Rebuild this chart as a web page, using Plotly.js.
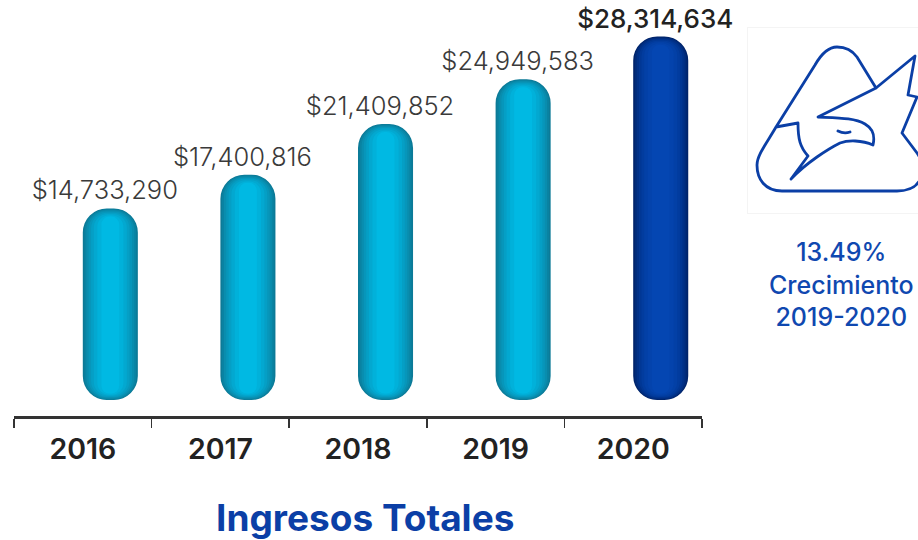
<!DOCTYPE html>
<html>
<head>
<meta charset="utf-8">
<script src="https://cdn.plot.ly/plotly-3.0.1.min.js"></script>
<style>html,body{margin:0;padding:0;background:#fff}#c{width:918px;height:540px}</style>
</head>
<body>
<div id="c"></div>
<script>
const years = ['2016', '2017', '2018', '2019', '2020'];
const ingresos = [14733290, 17400816, 21409852, 24949583, 28314634];
const etiquetas = ['$14,733,290', '$17,400,816', '$21,409,852', '$24,949,583', '$28,314,634'];
const cyanRamp = ['#0c7a97', '#0a83a2', '#098dae', '#0796ba', '#059fc5', '#03a8d0', '#01b1da', '#00b9e3'];
const blueRamp = ['#00246a', '#002b7a', '#003188', '#013794', '#023c9e', '#0340a6', '#0443ac', '#0446b2'];
const insetsX = [0, 0.012, 0.026, 0.042, 0.06, 0.08, 0.105, 0.135];
const insetsY = [0, 70000, 150000, 240000, 330000, 430000, 530000, 640000];
const labelColors = ['#3a3a3a', '#3a3a3a', '#3a3a3a', '#3a3a3a', '#222222'];
const labelWeights = [300, 300, 300, 300, 500];
const labelSizes = [25.5, 25.5, 25.5, 25.5, 26];

const barWidth = 0.4, barBase = -400000;
const traces = [];
cyanRamp.forEach((_, i) => {
  const colors = years.map((y, k) => (k === years.length - 1 ? blueRamp[i] : cyanRamp[i]));
  const b = barBase + insetsY[i] * 0.8;
  traces.push({
    type: 'bar', x: years, base: b,
    y: ingresos.map(v => v - b - insetsY[i]),
    offset: insetsX[i], width: barWidth - 2 * insetsX[i],
    marker: { color: colors, cornerradius: Math.max(5, 24 - i * 2), line: { width: 0 } },
    hoverinfo: 'skip', showlegend: false, cliponaxis: false
  });
});
traces.push({
  type: 'bar', x: years, y: ingresos,
  offset: -0.04, width: barWidth,
  marker: { color: 'rgba(0,0,0,0)', line: { width: 0 } },
  text: etiquetas, textposition: 'outside', constraintext: 'none', cliponaxis: false,
  textfont: { family: 'Inter, sans-serif', size: labelSizes, color: labelColors, weight: labelWeights },
  hoverinfo: 'skip', showlegend: false
});

const logoPath =
  "M36 100 L75 38 C83 24 90 20 97 20 C106 20 112 23 117 30 L136 61 L175 29 L168 68 L177 70 L162 106 L177 126 " +
  "C186 138 186 164 157 164 L42 164 C25 164 17 152 17 138 C17 128 28 114 36 100 Z " +
  "M36 100 L58 96 C58 112 60 120 68 129 L51 152 C66 136 88 122 100 116 C108 113 122 113 133 118 " +
  "C136 105 130 100 125 97 C115 91 100 91 78 90 L136 61 " +
  "M98 104 Q104 107 110 105";
const logoSvg = "<svg xmlns='http://www.w3.org/2000/svg' width='178' height='190' viewBox='0 0 178 190'>" +
  "<rect x='7.5' y='0.5' width='200' height='186' fill='#fff' stroke='#f4f4f4'/>" +
  "<path d='" + logoPath + "' fill='none' stroke='#0b3fa6' stroke-width='2.8' stroke-linejoin='round' stroke-linecap='round'/></svg>";

const layout = {
  width: 918, height: 540,
  margin: { l: 14, r: 216, t: 0, b: 124 },
  paper_bgcolor: '#fff', plot_bgcolor: '#fff',
  barmode: 'overlay',
  showlegend: false,
  xaxis: {
    type: 'category', range: [-0.5, 4.5], tickson: 'boundaries',
    ticks: 'outside', ticklen: 9, tickwidth: 1.5, tickcolor: '#333',
    showline: true, linecolor: '#333', linewidth: 2.5, showgrid: false, zeroline: false,
    ticklabelstandoff: 6,
    tickfont: { family: 'Inter, sans-serif', size: 28.5, color: '#222', weight: 600 }
  },
  yaxis: { visible: false, range: [-1660000, 31200000], fixedrange: true },
  images: [{
    source: 'data:image/svg+xml,' + encodeURIComponent(logoSvg),
    xref: 'paper', yref: 'paper', xanchor: 'left', yanchor: 'top',
    x: (740 - 14) / 688, y: 1 - 27 / 416, sizex: 178 / 688, sizey: 190 / 416,
    sizing: 'stretch', layer: 'above'
  }],
  annotations: [
    { text: 'Ingresos Totales', xref: 'paper', yref: 'paper', x: (365 - 14) / 688, y: (540 - 517 - 124) / 416,
      showarrow: false, xanchor: 'center', yanchor: 'middle',
      font: { family: 'Inter, sans-serif', size: 37, color: '#0b3fa6', weight: 700 } },
    { text: '13.49%<br>Crecimiento<br>2019-2020', xref: 'paper', yref: 'paper', x: (841 - 14) / 688, y: 1 - 284 / 416,
      showarrow: false, xanchor: 'center', yanchor: 'middle', align: 'center',
      font: { family: 'Inter, sans-serif', size: 25, color: '#0f48b0', weight: 500 } }
  ]
};
Plotly.newPlot('c', traces, layout, { displayModeBar: false, staticPlot: true });
</script>
</body>
</html>
